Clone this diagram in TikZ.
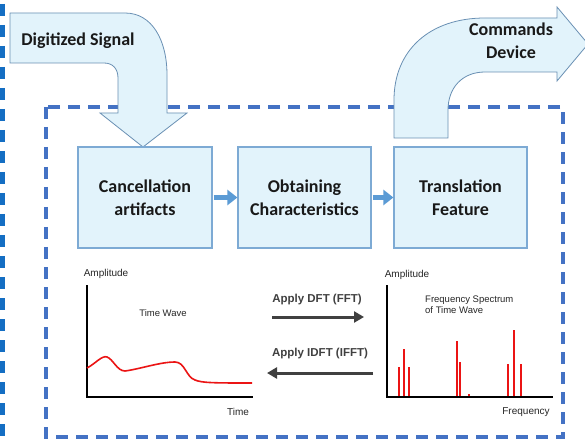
\documentclass[tikz,border=0pt]{standalone}
\usepackage{fontspec}
\setmainfont{Carlito}
\newfontfamily\arialf{Liberation Sans}
\usetikzlibrary{arrows.meta}
\definecolor{dashblue}{RGB}{68,114,196}
\definecolor{edgeblue}{RGB}{20,110,195}
\definecolor{boxfill}{RGB}{226,243,251}
\definecolor{boxline}{RGB}{125,170,212}
\definecolor{flowblue}{RGB}{91,155,213}
\definecolor{darkarrow}{RGB}{64,64,64}
\definecolor{wavered}{RGB}{235,20,20}
\tikzset{
  stepbox/.style={draw=boxline, line width=1.2pt, fill=boxfill, minimum width=133pt, minimum height=101pt, align=center, inner sep=0pt, font=\fontsize{18}{23}\selectfont\bfseries, text=black!90},
  bigarrow/.style={draw=boxline!85!black, line width=0.8pt, fill=boxfill},
  flow/.style={flowblue, line width=5pt, -{Triangle[length=10pt,width=15pt]}},
  fftarrow/.style={darkarrow, line width=3pt, -{Triangle[length=10pt,width=11pt]}},
  small/.style={font=\arialf\fontsize{10}{11}\selectfont, inner sep=0pt, text=black!85},
  tiny/.style={font=\arialf\fontsize{9.5}{10.5}\selectfont, inner sep=0pt, text=black!85},
  axis/.style={black, line width=1.6pt},
  wave/.style={wavered, line width=1.6pt},
  spike/.style={wavered, line width=1.3pt},
}
\begin{document}
\begin{tikzpicture}[x=1pt,y=-1pt]
\useasboundingbox (0,0) rectangle (585,443);
\fill[white] (0,0) rectangle (585,443);
% left page edge dashes
\draw[edgeblue, line width=5pt, dash pattern=on 12pt off 9pt] (2,4) -- (2,443);
% main dashed frame
\draw[dashblue, line width=4.5pt, dash pattern=on 12pt off 8pt] (46,107) rectangle (563,437);
% Digitized Signal bent arrow
\draw[bigarrow] (10,13) -- (125,13) .. controls (152,13) and (167,40) .. (167,75) -- (167,113) -- (187,113) -- (143,147) -- (100,113) -- (118,113) -- (118,78) .. controls (118,69) and (113,63) .. (104,63) -- (10,63) -- cycle;
\node[font=\fontsize{18}{21}\selectfont\bfseries, text=black!90] (dig) at (78,41) {Digitized Signal};
% Commands Device bent arrow
\draw[bigarrow] (394,138) -- (394,100) .. controls (394,50) and (430,18) .. (485,18) -- (557,18) -- (557,7) -- (588,44) -- (557,81) -- (557,72) -- (485,72) .. controls (462,72) and (448,88) .. (448,110) -- (448,138) -- cycle;
\node[font=\fontsize{18}{23}\selectfont\bfseries, text=black!90, align=center] (cmd) at (511,41) {Commands\\Device};
% process boxes
\node[stepbox, minimum width=134pt] (b1) at (145,197.5) {Cancellation\\artifacts};
\node[stepbox] (b2) at (304.5,197.5) {Obtaining\\Characteristics};
\node[stepbox] (b3) at (460.5,197.5) {Translation\\Feature};
\draw[flow] (b1.east) ++(1,0) coordinate (f1) -- (f1 -| b2.west);
\draw[flow] (b2.east) ++(1,0) coordinate (f2) -- (f2 -| b3.west);
% left chart
\draw[axis] (87,285) -- (87,397) -- (253,397);
\node[small] (amp1) at (106,274) {Amplitude};
\node[small] (time) at (238,412) {Time};
\node[tiny] (tw) at (163,313) {Time Wave};
\draw[wave] (87,368) .. controls (95,364) and (102,355) .. (107,357) .. controls (113,359) and (117,371) .. (125,371) .. controls (140,369) and (160,362) .. (175,362) .. controls (185,362) and (186,377) .. (195,380) .. controls (202,383) and (215,383) .. (252,383);
% middle arrows
\coordinate (d1) at (272,317);
\coordinate (d2) at (364,317);
\coordinate (i1) at (373,373);
\coordinate (i2) at (267,373);
\draw[fftarrow] (d1) -- (d2);
\draw[fftarrow] (i1) -- (i2);
\node[font=\arialf\fontsize{11.5}{13}\selectfont\bfseries, text=darkarrow, inner sep=0pt] (dft) at (317,300) {Apply DFT (FFT)};
\node[font=\arialf\fontsize{11.5}{13}\selectfont\bfseries, text=darkarrow, inner sep=0pt] (idft) at (320,354) {Apply IDFT (IFFT)};
% right chart
\draw[axis] (387,285) -- (387,397) -- (553,397);
\node[small] (amp2) at (407,275) {Amplitude};
\node[small] (freq) at (526,412) {Frequency};
\node[tiny, align=left, anchor=north west] (fs) at (425,296) {Frequency Spectrum\\of Time Wave};
\foreach \x/\t in {399/367, 404/349, 409/367, 457/341, 460/362, 469/394, 508/364, 514/330, 521/364}
  \draw[spike] (\x,396) -- (\x,\t);
\end{tikzpicture}
\end{document}
